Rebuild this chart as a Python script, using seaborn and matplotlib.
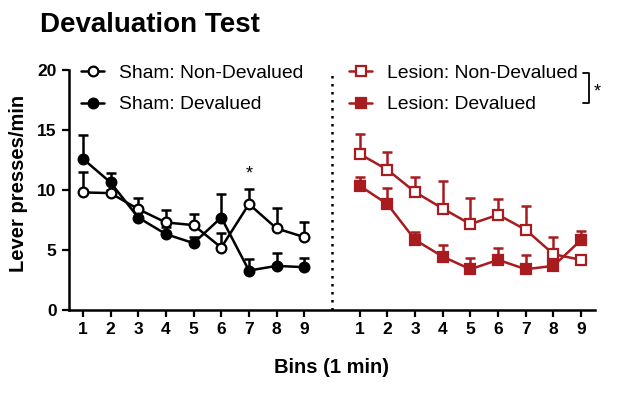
import matplotlib
matplotlib.use("Agg")
import matplotlib.pyplot as plt
from matplotlib.lines import Line2D
import numpy as np
import pandas as pd
import seaborn as sns

# ---- data ----
bins = [1, 2, 3, 4, 5, 6, 7, 8, 9]
tick_labels = ["1", "2", "3", "4", "5", "6", "7", "8", "9"]

sham_nondev = [9.78, 9.72, 8.39, 7.28, 7.06, 5.19, 8.81, 6.78, 6.06]
sham_nondev_err = [1.69, 0.30, 0.95, 1.03, 0.90, 1.20, 1.25, 1.72, 1.27]
sham_dev = [12.58, 10.61, 7.69, 6.31, 5.56, 7.69, 3.28, 3.67, 3.56]
sham_dev_err = [1.95, 0.78, 0.50, 0.60, 0.50, 1.98, 0.94, 1.05, 0.77]

lesion_nondev = [12.97, 11.67, 9.81, 8.44, 7.14, 7.92, 6.67, 4.64, 4.17]
lesion_nondev_err = [1.70, 1.47, 1.22, 2.25, 2.14, 1.30, 1.94, 1.47, 0.20]
lesion_dev = [10.33, 8.81, 5.83, 4.44, 3.39, 4.17, 3.39, 3.67, 5.83]
lesion_dev_err = [0.70, 1.33, 0.64, 0.98, 0.97, 0.97, 1.19, 0.30, 0.70]

series_labels = ["Sham: Non-Devalued", "Sham: Devalued",
                 "Lesion: Non-Devalued", "Lesion: Devalued"]

RED = "#A81B1F"
BLACK = "black"

sns.set_theme(style="ticks")
plt.rcParams["font.family"] = ["Liberation Sans", "DejaVu Sans"]
plt.rcParams["text.color"] = BLACK
plt.rcParams["axes.labelcolor"] = BLACK
plt.rcParams["xtick.color"] = BLACK
plt.rcParams["ytick.color"] = BLACK

fig = plt.figure(figsize=(6.17, 3.95), dpi=100)
W, H = 617, 395
ax = fig.add_axes([69 / W, 1 - 310 / H, (595 - 69) / W, (310 - 69.5) / H])

offset = 10  # right group shifted by 10 positions
x_left = np.array(bins, dtype=float)
x_right = np.array(bins, dtype=float) + offset

specs = [
    (x_left, sham_nondev, sham_nondev_err, BLACK, "o", "white", series_labels[0]),
    (x_left, sham_dev, sham_dev_err, BLACK, "o", BLACK, series_labels[1]),
    (x_right, lesion_nondev, lesion_nondev_err, RED, "s", "white", series_labels[2]),
    (x_right, lesion_dev, lesion_dev_err, RED, "s", RED, series_labels[3]),
]

lw = 1.8
for x, y, e, c, m, fc, lab in specs:
    ax.errorbar(x, y, yerr=[np.zeros(len(e)), e], fmt="none", ecolor=c,
                elinewidth=lw, capsize=3.6, capthick=lw, zorder=2)
    df = pd.DataFrame({"x": x, "y": y})
    sns.lineplot(data=df, x="x", y="y", ax=ax, color=c, lw=lw, marker=m,
                 markersize=7, markerfacecolor=fc, markeredgecolor=c,
                 markeredgewidth=1.6, zorder=3, legend=False)

ax.axvline(offset, color=BLACK, ls=(0, (1, 2.2)), lw=1.8, zorder=1)

ax.set_xlim(0.5, 19.5)
ax.set_ylim(0, 20)
ax.set_yticks([0, 5, 10, 15, 20])
ax.set_xticks(list(x_left) + list(x_right))
ax.set_xticklabels(tick_labels + tick_labels)
ax.tick_params(axis="both", direction="out", length=5, width=1.6,
               labelsize=12.5, color=BLACK, labelcolor=BLACK, pad=4)
for lbl in ax.get_xticklabels() + ax.get_yticklabels():
    lbl.set_fontweight("bold")
for s in ["top", "right"]:
    ax.spines[s].set_visible(False)
for s in ["left", "bottom"]:
    ax.spines[s].set_linewidth(1.8)
    ax.spines[s].set_color(BLACK)

ax.set_xlabel("Bins (1 min)", fontsize=14.5, fontweight="bold", labelpad=15)
ax.set_ylabel("Lever presses/min", fontsize=14.5, fontweight="bold")
ax.yaxis.set_label_coords(-0.078, 0.528)

# significance star
ax.text(7, 11.3, "*", ha="center", va="center", fontsize=13)

fig.text(40 / W, 1 - 12 / H, "Devaluation Test", fontsize=20, fontweight="bold",
         ha="left", va="top")

def handle(c, m, fc):
    return Line2D([], [], color=c, lw=lw, marker=m, markersize=7,
                  markerfacecolor=fc, markeredgecolor=c, markeredgewidth=1.6)

common = dict(loc="upper left", bbox_transform=fig.transFigure, frameon=False,
              fontsize=13.9, handlelength=1.2, handletextpad=0.75,
              labelspacing=0.74, borderpad=0, borderaxespad=0)
leg1 = ax.legend([handle(BLACK, "o", "white"), handle(BLACK, "o", BLACK)],
                 series_labels[:2], bbox_to_anchor=(81 / W, 1 - 64 / H), **common)
ax.add_artist(leg1)
leg2 = ax.legend([handle(RED, "s", "white"), handle(RED, "s", RED)],
                 series_labels[2:], bbox_to_anchor=(349 / W, 1 - 64 / H), **common)

# bracket with star next to the lesion legend
bx0, bx1 = 583 / W, 589 / W
by0, by1 = 1 - 73 / H, 1 - 103 / H
fig.add_artist(Line2D([bx0, bx1, bx1, bx0], [by0, by0, by1, by1],
                      color=BLACK, lw=1.3, transform=fig.transFigure))
fig.text(597 / W, 1 - 92 / H, "*", fontsize=13, ha="center", va="center")

fig.savefig("out.png", dpi=100)
